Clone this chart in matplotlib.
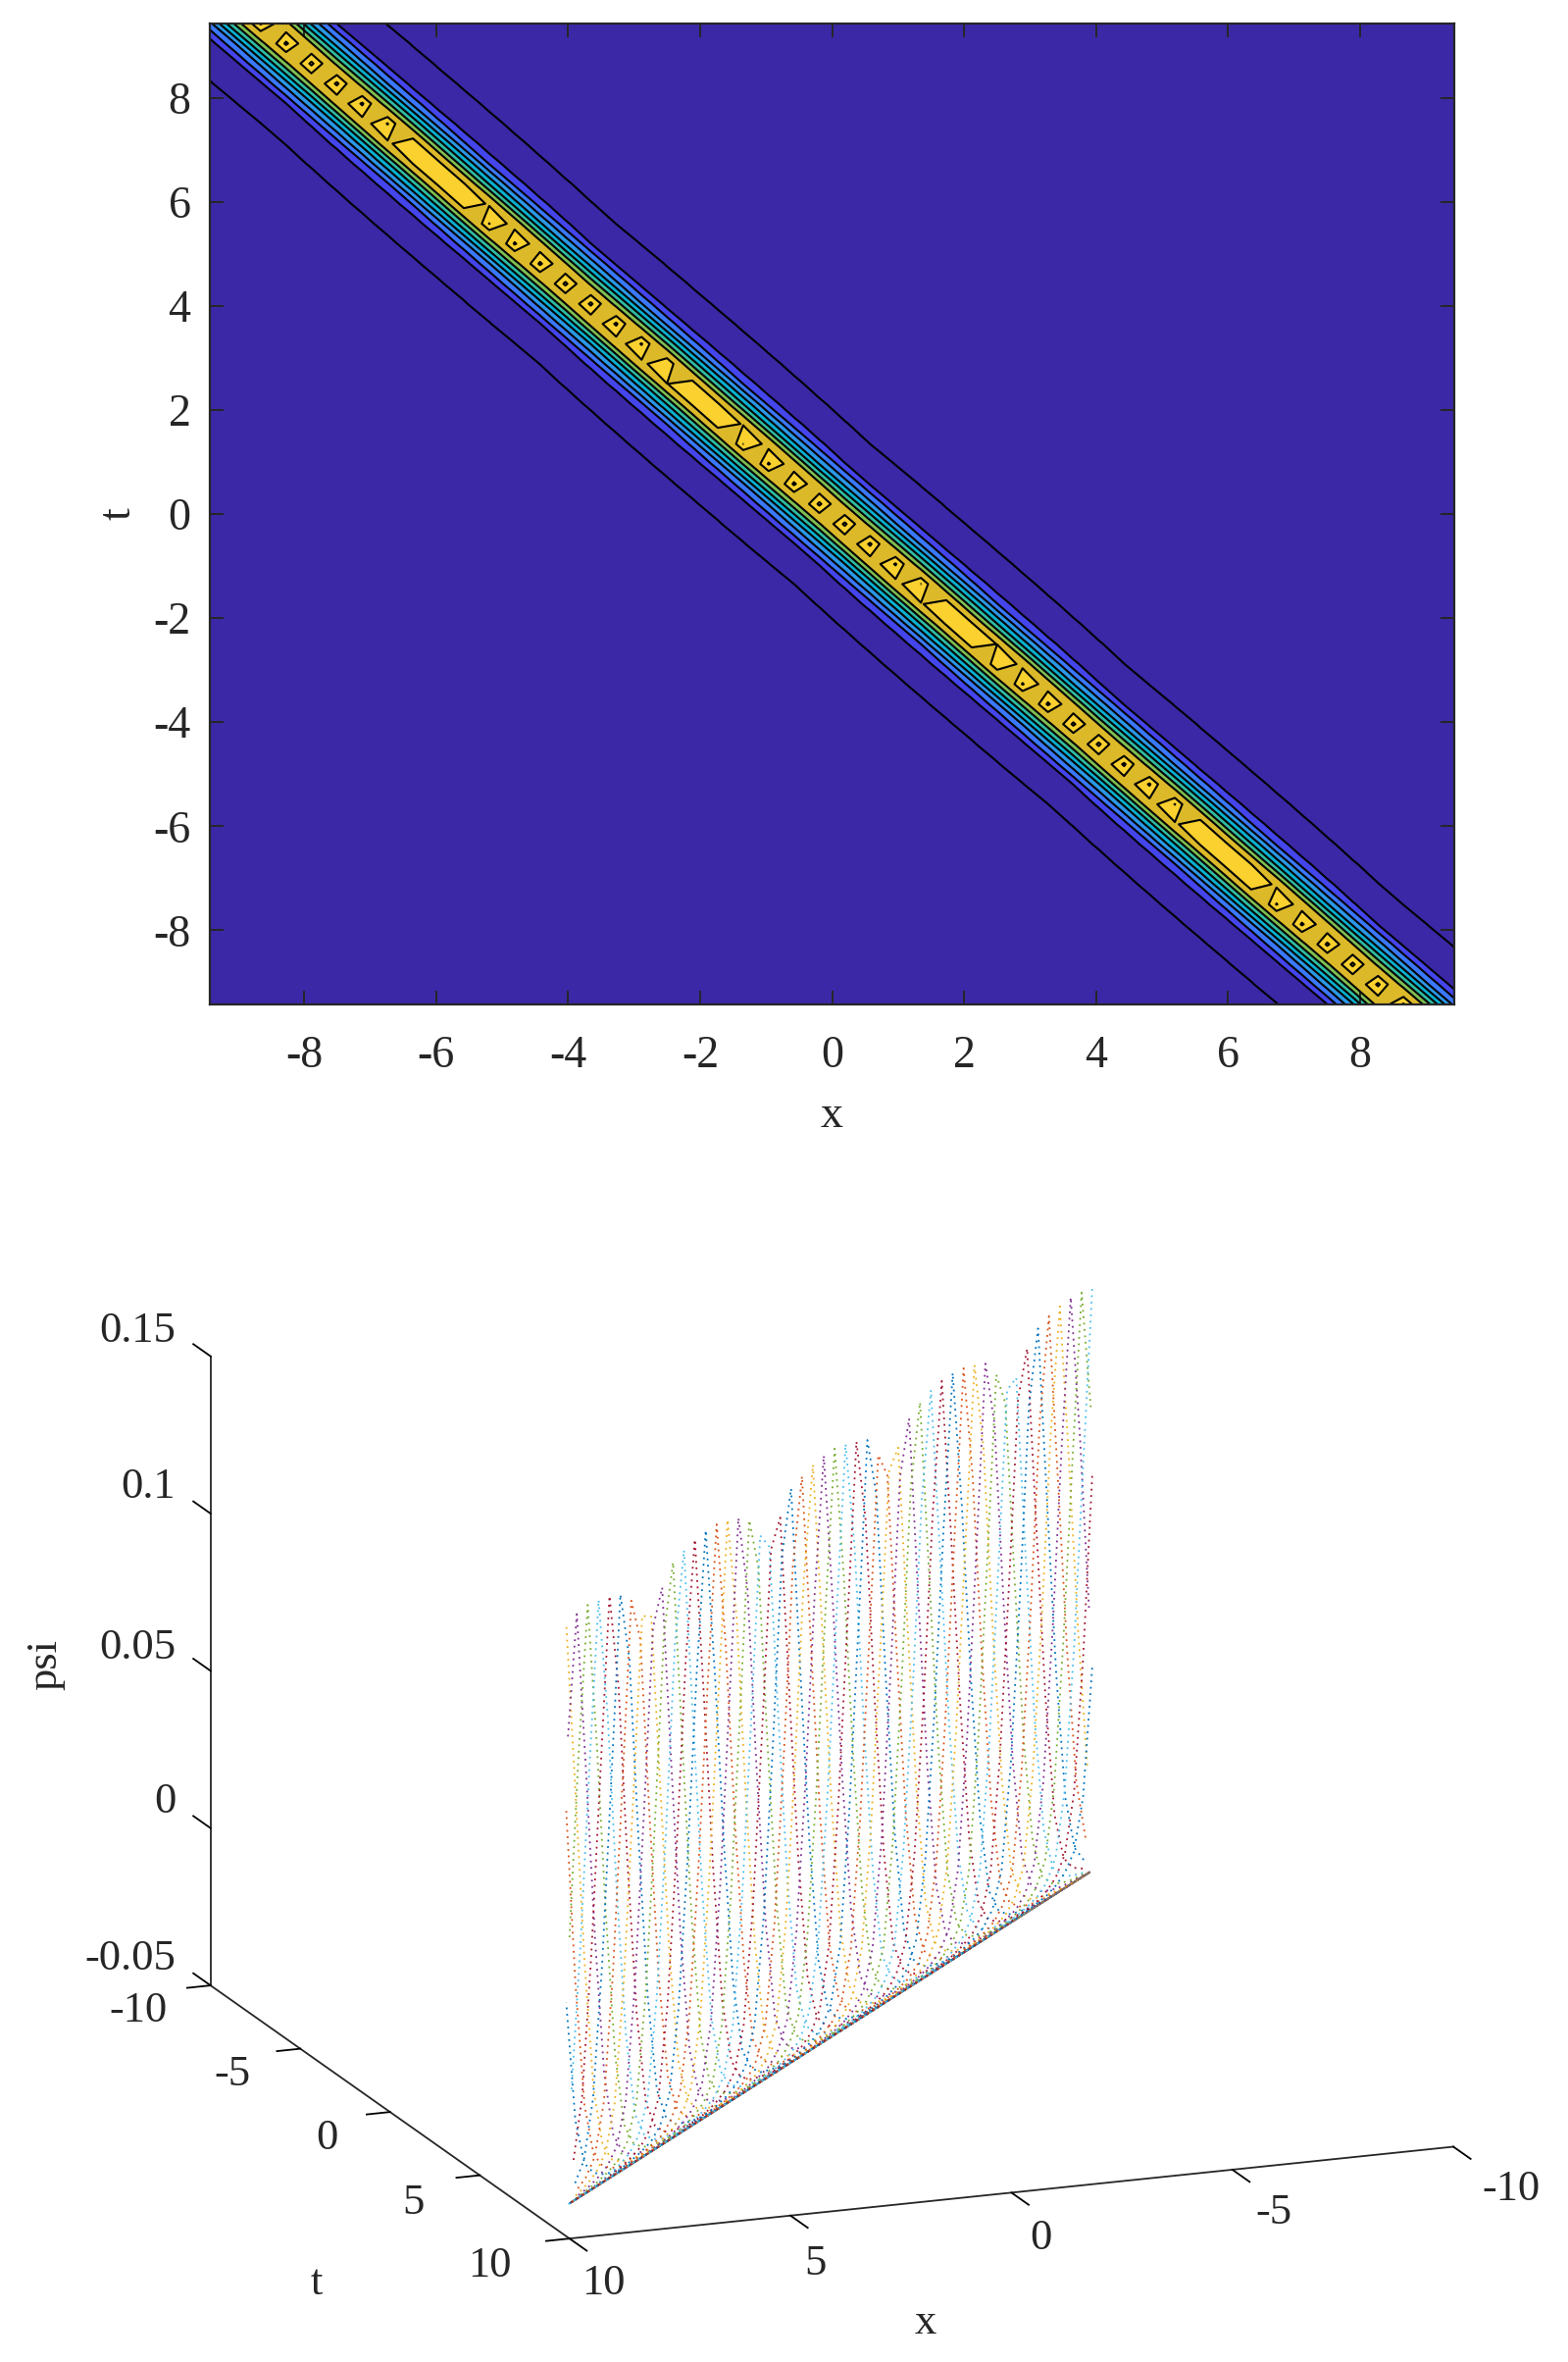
import numpy as np
import matplotlib
matplotlib.use("Agg")
import matplotlib.pyplot as plt
from mpl_toolkits.mplot3d import axis3d

plt.rcParams["font.family"] = ["Liberation Serif", "DejaVu Serif"]

# ridge cross section: distance from the ridge, psi
ridge_offset = [0.0, 0.06, 0.12, 0.16, 0.19, 0.25, 0.37, 0.48, 0.58, 0.68, 0.80, 0.93, 1.08, 1.2, 1.35, 1.55, 1.8, 2.1, 2.6, 3.6]
ridge_psi = [0.150, 0.149, 0.1466, 0.140, 0.135, 0.129, 0.110, 0.098, 0.084, 0.070, 0.056, 0.042, 0.028, 0.0195, 0.0125, 0.0075, 0.0045, 0.0025, 0.001, 0.0]
ridge_slope = 0.911
grid_size = 50

contour_levels = [0.0045, 0.028, 0.042, 0.056, 0.070, 0.084, 0.098, 0.112, 0.132, 0.1465]
band_colors = ["#3b28a6", "#3b28a6", "#4545ec", "#3a78fc", "#2a98e6", "#08b0cf", "#2fbca2",
               "#7fbf52", "#dcb929", "#fbd12f", "#fbd12f"]

x_ticks = [-8, -6, -4, -2, 0, 2, 4, 6, 8]
t_ticks = [-8, -6, -4, -2, 0, 2, 4, 6, 8]

# 3d panel
box_ticks = [-10, -5, 0, 5, 10]
box_tick_labels = ["-10", "-5", "0", "5", "10"]
psi_ticks = [-0.05, 0, 0.05, 0.1, 0.15]
psi_tick_labels = ["-0.05", "0", "0.05", "0.1", "0.15"]
wall_x_ends = [9.14, -10.6]
wall_t_ends = [7.7, -11.6]
wall_floor = -0.05
wall_scale = 1.244
flank_rows = [-60, -6, 6, 60]
flank_pulled = [-60, -5.1, 5.1, 60]
line_colors = ["#0072BD", "#D95319", "#EDB120", "#7E2F8E", "#77AC30", "#4DBEEE", "#A2142F"]

dark = "#262626"

# same 50x50 sampling for both panels, the islands on the ridge come from it
x = np.linspace(-3 * np.pi, 3 * np.pi, grid_size)
t = np.linspace(-3 * np.pi, 3 * np.pi, grid_size)
X, T = np.meshgrid(x, t)
Z = np.interp(np.abs(X + ridge_slope * T), ridge_offset, ridge_psi)

fig = plt.figure(figsize=(15.99, 24.08), dpi=100)

ax = fig.add_axes([214 / 1599, 1 - 1024 / 2408, (1483 - 214) / 1599, (1024 - 24) / 2408])
ax.contourf(X, T, Z, levels=[-1] + contour_levels + [1], colors=band_colors)
ax.contour(X, T, Z, levels=contour_levels, colors="k", linewidths=1.5)
ax.set_xticks(x_ticks, [str(v) for v in x_ticks])
ax.set_yticks(t_ticks, [str(v) for v in t_ticks])
ax.tick_params(direction="in", top=True, right=True, length=10, width=1.4, color=dark,
               labelcolor=dark, labelsize=33, pad=14)
ax.tick_params(axis="x", pad=23)
for s in ax.spines.values():
    s.set_linewidth(1.6)
    s.set_color(dark)
ax.set_xlabel("x", fontsize=33, color=dark, labelpad=13)
ax.set_ylabel("t", fontsize=33, color=dark, labelpad=10)

# z ticks of the reference run along t, not x
axis3d.Axis._AXINFO["z"]["tickdir"] = 1

ax3 = fig.add_axes([73 / 1599, -153 / 2408, 1510 / 1599, 1510 / 2408], projection="3d",
                   proj_type="ortho")
ax3.set_facecolor("none")
ax3.view_init(elev=15.7, azim=69)
ax3.set_box_aspect((965, 1021, 666))

rows = np.arange(grid_size)
floor_x = np.linspace(wall_x_ends[1], wall_x_ends[0], grid_size)
floor_t = np.linspace(wall_t_ends[1], wall_t_ends[0], grid_size)
for i in range(grid_size):
    # the columns of dots stand almost upright, so pull each line in round its crest
    crest = np.interp(-x[i] / ridge_slope, t, rows)
    q = np.clip(crest + np.interp(rows - crest, flank_rows, flank_pulled), 0, grid_size - 1)
    ax3.plot(np.interp(q, rows, floor_x), np.interp(q, rows, floor_t), wall_floor + wall_scale * Z[:, i],
             color=line_colors[i % 7], lw=1.3, linestyle=(0, (1.0, 2.6)))

ax3.set_xlim(-10, 10, view_margin=0)
ax3.set_ylim(-10, 10, view_margin=0)
ax3.set_zlim(-0.05, 0.15, view_margin=0)
ax3.set_xticks(box_ticks, [])
ax3.set_yticks(box_ticks, [])
ax3.set_zticks(psi_ticks, [])
ax3.grid(False)
for a, out in zip((ax3.xaxis, ax3.yaxis, ax3.zaxis), (-0.6, -0.33, 0.6)):
    a.pane.set_visible(False)
    a.line.set_color(dark)
    a.line.set_linewidth(1.3)
    a._axinfo["tick"]["outward_factor"] = out
    a._axinfo["tick"]["inward_factor"] = 0.0
    a._axinfo["tick"]["linewidth"] = {True: 1.3, False: 0.8}
    a._axinfo["tick"]["color"] = dark


# labels of the 3d box sit by eye in the reference, coordinates on the 1044 wide view
def put(xd, yd, s, ha="center", rotation=0):
    fig.text(xd / 1044, 1 - yd / 1572, s, ha=ha, va="center", fontsize=32, color=dark, rotation=rotation)


for v, xd, yd in zip(box_tick_labels, [1006, 848, 693, 543, 402], [1457, 1473, 1490, 1507, 1520]):
    put(xd, yd, v)
for v, xd, yd in zip(box_tick_labels, [92, 155, 218, 275, 326], [1338, 1381, 1423, 1466, 1508]):
    put(xd, yd, v)
for v, yd in zip(psi_tick_labels, [1304, 1199, 1097, 990, 886]):
    put(117, yd, v, ha="right")
put(616, 1546, "x")
put(211, 1520, "t")
put(30, 1108, "psi", rotation=90)

fig.savefig("out.png", dpi=100)
